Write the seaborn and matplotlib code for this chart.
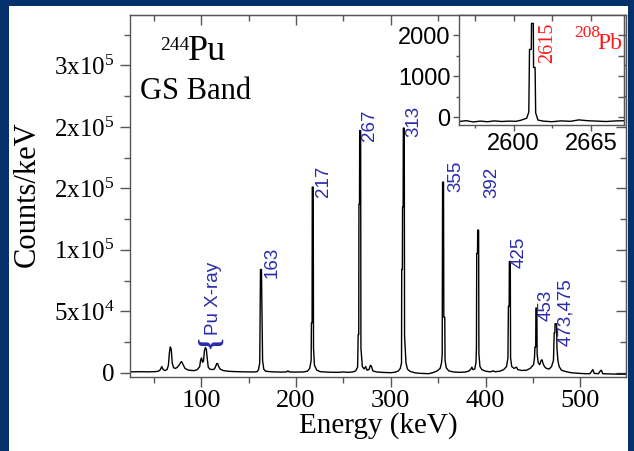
import matplotlib
matplotlib.use("Agg")
import matplotlib.pyplot as plt
from matplotlib.patches import Rectangle
from matplotlib.ticker import MultipleLocator, FixedLocator
import seaborn as sns
import pandas as pd

# 244Pu ground-state band gamma spectrum (keV, counts/keV)
energy_kev = [
    25, 35, 45, 52, 55, 57, 58.5, 60, 62, 64, 65.5, 66.5, 67.5, 68.5, 69.5, 71, 73, 75, 77,
    78.5, 79.5, 81, 83, 86, 90, 93, 96, 98.5, 99.5, 100.5, 101.5, 102.5, 103.5, 104.5, 105.5,
    106.5, 107.5, 109, 112, 114, 115.5, 116.5, 117.5, 118.5, 120, 123, 128, 135, 145, 155,
    159, 160.5, 161.8, 162.6, 163.6, 164.2, 164.8, 166, 168, 175, 185, 190, 191.5, 193, 200,
    208, 212, 214.5, 216, 216.3, 217.0, 217.2, 218.2, 218.5, 219.5, 222, 226, 235, 245, 250,
    255, 260, 263, 265, 265.6, 266.2, 266.4, 267.0, 267.2, 268.2, 268.5, 270, 272, 273.5, 275,
    277, 278.5, 279.5, 281, 285, 292, 300, 305, 308, 310, 311.3, 311.5, 312.2, 312.4, 313.0,
    313.2, 314.2, 314.5, 316, 317.5, 320, 325, 330, 340, 345, 349, 352, 353.5, 354.2, 354.6,
    355.6, 355.9, 356.9, 357.2, 358.5, 361, 366, 372, 378, 382, 384.5, 385.5, 386.5, 388.5,
    389.8, 390.3, 390.6, 391.4, 391.6, 392.6, 392.9, 394, 396, 400, 405, 408, 410, 415, 419,
    422, 423.5, 424.0, 424.8, 425.0, 426.0, 426.3, 427.5, 430, 432.5, 434, 438, 443, 447,
    450.5, 451.5, 452.0, 452.8, 453.0, 454.0, 454.3, 455.5, 457, 458.5, 459.5, 460.5, 462,
    464, 467, 469.5, 471.5, 472.3, 473.0, 473.2, 474.8, 475.2, 476.2, 477.5, 480, 485, 490,
    498, 505, 510, 512, 513, 514.5, 519, 521, 522, 523.5, 530, 540, 548,
]
counts = [
    700, 800, 700, 900, 1200, 2500, 5000, 2500, 1800, 2500, 6000, 16000, 21000, 19000, 8000,
    4000, 3500, 4500, 6500, 8500, 9000, 6500, 3500, 2200, 1800, 1700, 2500, 5000, 10500,
    12000, 8500, 9500, 18000, 20500, 19000, 11000, 4500, 3000, 2500, 3000, 5500, 7500, 7300,
    5000, 3000, 1800, 1200, 900, 700, 600, 800, 2500, 8000, 84000, 84000, 50000, 10000, 3000,
    1200, 700, 500, 600, 1500, 600, 500, 600, 1200, 3500, 10000, 40500, 40500, 151000,
    151000, 20000, 6000, 2000, 800, 400, 300, 600, 300, 600, 1500, 4500, 31000, 31000,
    137000, 137000, 197000, 197000, 20000, 5000, 3000, 5000, 2000, 2500, 6000, 5500, 1500,
    600, 200, 0, 500, 1500, 3500, 8000, 84000, 84000, 135000, 135000, 199000, 199000, 30000,
    8000, 3000, 1200, 0, -500, -800, 200, 1500, 3500, 8000, 15000, 155000, 155000, 45000,
    45000, 10000, 4000, 1500, 600, 300, 500, 1200, 3000, 4500, 2500, 3000, 8000, 20000,
    97000, 97000, 116000, 116000, 15000, 5000, 2500, 1200, 700, 1500, 800, 1200, 2500, 5000,
    12000, 54000, 54000, 90500, 90500, 12000, 5000, 3500, 4500, 2500, 1800, 2000, 3500, 6500,
    12000, 21000, 21000, 52600, 52600, 15000, 8000, 6500, 10000, 10500, 7500, 5000, 3500,
    3000, 5000, 10000, 32500, 32500, 39800, 39800, 20000, 10000, 5000, 2000, 800, 0, -500,
    -800, -800, 1500, 2500, -600, -800, 1500, 2000, -800, -1000, -1200, -1200,
]

# 208Pb 2615 keV line (inset)
pb_energy_kev = [
    2554, 2560, 2566, 2572, 2578, 2584, 2590, 2596, 2602, 2606, 2609, 2611, 2612.8, 2613.4,
    2614.9, 2615.1, 2616.6, 2616.8, 2618.1, 2618.6, 2620.5, 2625, 2632, 2640, 2648, 2655,
    2662, 2670, 2678, 2686, 2694,
]
pb_counts = [
    -110, -90, -120, -100, -115, -95, -110, -100, -105, -80, -50, -30, 120, 1650, 1650, 2285,
    2285, 1210, 1210, 100, -75, -100, -115, -95, -105, -70, -90, -100, -110, -95, -90,
]

y_ticks = [0, 50000, 100000, 150000, 200000, 250000]
y_tick_labels = ["0", "5x10$^4$", "1x10$^5$", "2x10$^5$", "2x10$^5$", "3x10$^5$"]
x_ticks = [100, 200, 300, 400, 500]

peak_labels = ["163", "217", "267", "313", "355", "392", "425", "453", "473,475"]
peak_label_x = [175.3, 229.1, 277.6, 324.1, 368.1, 406.5, 434.9, 464.1, 484.2]
peak_label_y = [77200, 143300, 188900, 191600, 147400, 142000, 85100, 41700, 22000]

SERIF = "Liberation Serif"
SANS = "Liberation Sans"
BLUE = "#2b2bab"
RED = "#ff1a1a"
SPINE = "#555555"

sns.set_style("ticks")
plt.rcParams["font.family"] = [SERIF, "DejaVu Serif"]
plt.rcParams["mathtext.fontset"] = "custom"
plt.rcParams["mathtext.rm"] = SERIF
plt.rcParams["mathtext.it"] = SERIF + ":italic"
plt.rcParams["mathtext.bf"] = SERIF + ":bold"
for key in ("text.color", "axes.labelcolor", "xtick.labelcolor", "ytick.labelcolor"):
    plt.rcParams[key] = "black"

W, H = 634, 451
fig = plt.figure(figsize=(W / 100, H / 100), dpi=100)
fig.patch.set_facecolor("#05306c")
fig.patches.append(Rectangle((9 / W, 0), (628 - 9) / W, (H - 6) / H,
                             transform=fig.transFigure, facecolor="white",
                             edgecolor="none", zorder=-10))

# ---------------- main spectrum ----------------
ax = fig.add_axes([130 / W, 1 - 377 / H, 496 / W, 362 / H])
spec = pd.DataFrame({"Energy": energy_kev, "Counts": counts})
sns.lineplot(data=spec, x="Energy", y="Counts", sort=False, estimator=None,
             color="black", linewidth=1.0, ax=ax)
ax.set_xlim(25, 548)
ax.set_ylim(-3500, 291000)
ax.set_facecolor("white")
for s in ax.spines.values():
    s.set_color(SPINE)
    s.set_linewidth(1.0)

ax.xaxis.set_major_locator(FixedLocator(x_ticks))
ax.xaxis.set_minor_locator(MultipleLocator(50))
ax.set_yticks(y_ticks)
ax.set_yticklabels(y_tick_labels)
ax.yaxis.set_minor_locator(MultipleLocator(25000))
ax.tick_params(axis="both", which="major", direction="out", length=7, width=1,
               color=SPINE, labelsize=19)
ax.tick_params(axis="both", which="minor", direction="out", length=4, width=1,
               color=SPINE)
ax.tick_params(axis="x", pad=2.5)
ax.tick_params(axis="y", labelsize=18, pad=4)

# mirrored inward ticks on the top and right edges
top = ax.secondary_xaxis("top")
top.xaxis.set_major_locator(FixedLocator(x_ticks))
top.xaxis.set_minor_locator(MultipleLocator(50))
top.tick_params(which="major", direction="in", length=7, width=1, color=SPINE,
                labeltop=False)
top.tick_params(which="minor", direction="in", length=4, width=1, color=SPINE)
right = ax.secondary_yaxis("right")
right.set_yticks(y_ticks)
right.yaxis.set_minor_locator(MultipleLocator(25000))
right.tick_params(which="major", direction="in", length=7, width=1, color=SPINE,
                  labelright=False)
right.tick_params(which="minor", direction="in", length=4, width=1, color=SPINE)

ax.set_xlabel("Energy (keV)", fontsize=21)
ax.xaxis.set_label_coords(0.5, -0.096)
ax.set_ylabel("Counts/keV", fontsize=22)
ax.yaxis.set_label_coords(-0.178, 0.504)

for lab, lx, ly in zip(peak_labels, peak_label_x, peak_label_y):
    ax.text(lx, ly, lab, rotation=90, ha="center", va="bottom", color=BLUE,
            fontsize=13.5, family=SANS)
ax.text(113.5, 30900, "Pu X-ray", rotation=90, ha="center", va="bottom", color=BLUE,
        fontsize=13.5, family=SANS)
ax.text(110.6, 23600, "{", rotation=90, ha="center", va="center", color=BLUE,
        fontsize=21, family=SERIF, fontweight="bold")

fig.text(188 / W, 1 - 60 / H, "Pu", fontsize=26, ha="left", va="baseline")
fig.text(160 / W, 1 - 50 / H, "244", fontsize=14, ha="left", va="baseline")
fig.text(140 / W, 1 - 99 / H, "GS Band", fontsize=22, ha="left", va="baseline")

# ---------------- 208Pb inset ----------------
ins = fig.add_axes([459 / W, 1 - 125 / H, 165 / W, 110 / H])
pb = pd.DataFrame({"Energy": pb_energy_kev, "Counts": pb_counts})
sns.lineplot(data=pb, x="Energy", y="Counts", sort=False, estimator=None,
             color="black", linewidth=1.0, ax=ins)
ins.set_xlim(2554, 2693)
ins.set_ylim(-195, 2490)
ins.set_facecolor("white")
ins.set_xlabel("")
ins.set_ylabel("")
for s in ins.spines.values():
    s.set_color(SPINE)
    s.set_linewidth(1.0)
ins.set_xticks([2600, 2665])
ins.xaxis.set_minor_locator(FixedLocator([2567.5, 2632.5]))
ins.set_yticks([0, 1000, 2000])
ins.yaxis.set_minor_locator(MultipleLocator(500))
ins.tick_params(axis="both", which="major", direction="out", length=4, width=1,
                color=SPINE, labelsize=17, pad=2)
ins.tick_params(axis="both", which="minor", direction="out", length=2, width=1,
                color=SPINE)
for t in ins.get_xticklabels() + ins.get_yticklabels():
    t.set_family(SANS)
itop = ins.secondary_xaxis("top")
itop.set_xticks([2600, 2665])
itop.xaxis.set_minor_locator(FixedLocator([2567.5, 2632.5]))
itop.tick_params(which="both", direction="in", length=4, width=1, color=SPINE,
                 labeltop=False)
iright = ins.secondary_yaxis("right")
iright.set_yticks([0, 1000, 2000])
iright.yaxis.set_minor_locator(MultipleLocator(500))
iright.tick_params(which="both", direction="in", length=4, width=1, color=SPINE,
                   labelright=False)

ins.text(2628.4, 1310, "2615", rotation=90, ha="center", va="bottom", color=RED,
         fontsize=14.5, family=SERIF)
ins.text(2692, 1651, "Pb", ha="right", va="baseline", color=RED, fontsize=17,
         family=SERIF)
ins.text(2651.5, 1958, "208", ha="left", va="baseline", color=RED, fontsize=12.5,
         family=SERIF)

fig.savefig("out.png", dpi=100, facecolor=fig.get_facecolor())
